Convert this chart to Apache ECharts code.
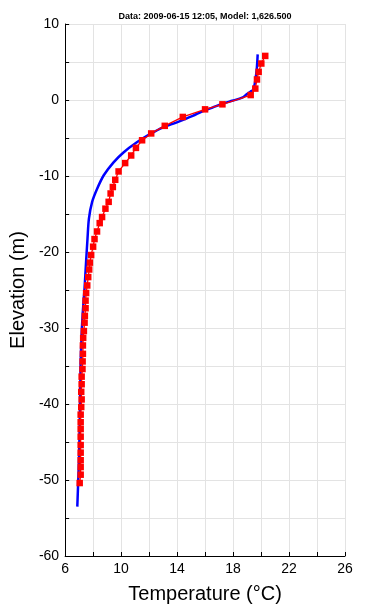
<!DOCTYPE html>
<html><head><meta charset="utf-8">
<script src="https://cdn.jsdelivr.net/npm/echarts@6/dist/echarts.min.js"></script>
<style>html,body{margin:0;padding:0;background:#fff}#c{width:369px;height:609px}</style>
</head><body><div id="c"></div>
<script>
const titleText = "Data: 2009-06-15 12:05, Model: 1,626.500";
const xTicks = [6, 10, 14, 18, 22, 26];
const yTicks = [10, 0, -10, -20, -30, -40, -50, -60];

const modelTemp = [19.76,19.7,19.6,19.45,19.24,19.0,18.65,17.94,17.24,16.53,15.8,15.12,13.94,13.0,12.06,11.1,10.17,9.46,8.76,8.28,7.93,7.7,7.6,7.5,7.39,7.27,7.18,7.1,7.06,6.99,6.94,6.87];
const modelElev = [6.0,4.2,2.7,1.4,1.1,0.8,0.3,-0.1,-0.5,-1.0,-1.5,-2.1,-2.97,-3.6,-4.5,-5.6,-6.9,-8.2,-9.9,-11.7,-13.4,-15.6,-18.2,-21.2,-24.7,-27.7,-30.8,-35.2,-40.8,-47.3,-49.9,-53.5];

const obsTemp = [20.3,20.02,19.83,19.71,19.59,19.26,17.24,16.0,14.41,13.12,12.15,11.5,11.06,10.72,10.29,9.82,9.58,9.41,9.25,9.11,8.88,8.64,8.47,8.28,8.1,8.0,7.86,7.77,7.72,7.65,7.58,7.5,7.46,7.46,7.41,7.39,7.34,7.29,7.27,7.27,7.25,7.24,7.18,7.18,7.15,7.18,7.15,7.11,7.11,7.11,7.11,7.11,7.11,7.11,7.11,7.11,7.04];
const obsElev = [5.8,4.8,3.7,2.7,1.5,0.65,-0.57,-1.23,-2.23,-3.4,-4.4,-5.3,-6.3,-7.3,-8.3,-9.4,-10.5,-11.45,-12.3,-13.4,-14.3,-15.4,-16.2,-17.3,-18.3,-19.3,-20.4,-21.4,-22.3,-23.3,-24.4,-25.4,-26.4,-27.4,-28.4,-29.3,-30.4,-31.3,-32.3,-33.4,-34.4,-35.4,-36.4,-37.4,-38.4,-39.4,-40.4,-41.4,-42.4,-43.3,-44.3,-45.4,-46.4,-47.4,-48.3,-49.3,-50.4];

const modelData = modelTemp.map((t, i) => [t, modelElev[i]]);
const obsData = obsTemp.map((t, i) => [t, obsElev[i]]);

const chart = echarts.init(document.getElementById('c'), null, {renderer: 'canvas'});
const font = 'Liberation Sans, Arial, sans-serif';
chart.setOption({
  animation: false,
  backgroundColor: '#fff',
  title: {
    text: titleText, left: 200, textAlign: 'center', top: 7,
    textStyle: {fontSize: 9, fontWeight: 'bold', color: '#000', fontFamily: font}
  },
  grid: {left: 61, right: 24, top: 24, bottom: 49, containLabel: false},
  xAxis: {
    type: 'value', min: 6, max: 26, interval: 2,
    name: 'Temperature (°C)', nameLocation: 'middle', nameGap: 28,
    nameTextStyle: {fontSize: 20, color: '#000', fontFamily: font},
    axisLine: {show: true, onZero: false, lineStyle: {color: '#000', width: 1}},
    axisTick: {show: true, inside: true, length: 4, lineStyle: {color: '#000'}},
    axisLabel: {
      color: '#000', fontSize: 14, fontFamily: font, margin: 6,
      formatter: v => xTicks.includes(v) ? String(v) : ''
    },
    splitLine: {show: true, lineStyle: {color: '#e3e3e3', width: 1}}
  },
  yAxis: {
    type: 'value', min: -60, max: 10, interval: 5,
    name: 'Elevation (m)', nameLocation: 'middle', nameGap: 29,
    nameTextStyle: {fontSize: 20, color: '#000', fontFamily: font},
    axisLine: {show: true, onZero: false, lineStyle: {color: '#000', width: 1}},
    axisTick: {show: true, inside: true, length: 4, lineStyle: {color: '#000'}},
    axisLabel: {
      color: '#000', fontSize: 14, fontFamily: font, margin: 6,
      formatter: v => yTicks.includes(v) ? String(v) : ''
    },
    splitLine: {show: true, lineStyle: {color: '#e3e3e3', width: 1}}
  },
  series: [
    {
      type: 'line', data: modelData, showSymbol: false, symbol: 'none', smooth: 0.3,
      lineStyle: {color: '#0000ff', width: 2.5}, z: 2
    },
    {
      type: 'line', data: obsData, symbol: 'rect', symbolSize: 6.5,
      itemStyle: {color: '#ff0000'},
      lineStyle: {color: '#ff0000', width: 1.3}, z: 3
    }
  ]
});
</script>
</body></html>
